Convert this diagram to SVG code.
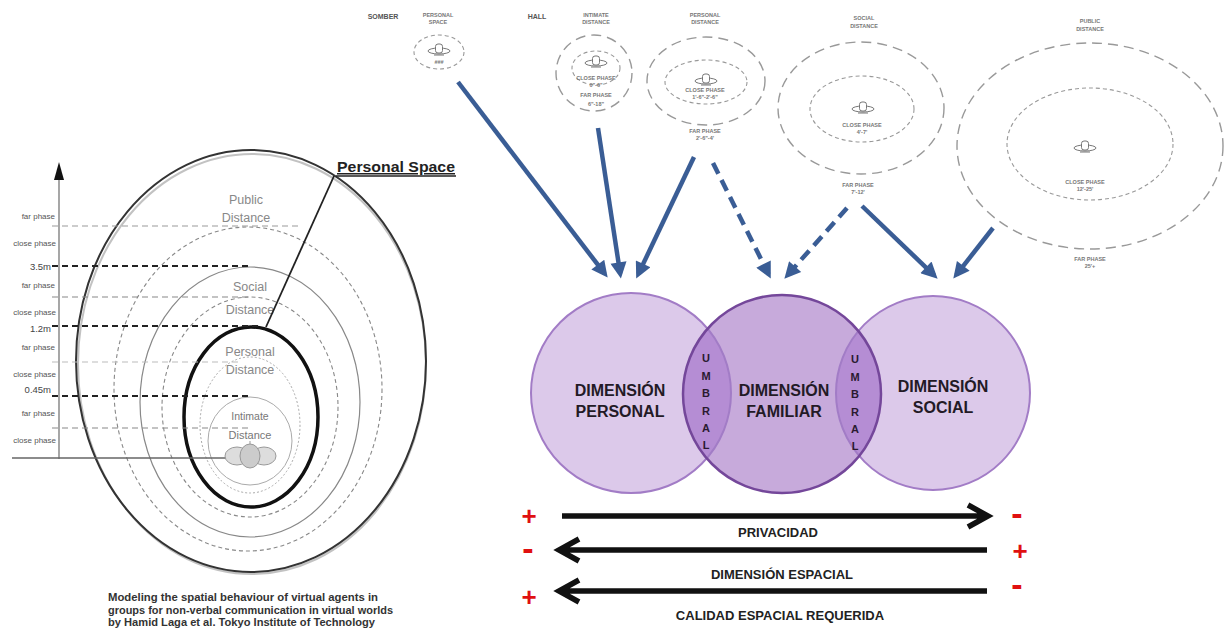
<svg xmlns="http://www.w3.org/2000/svg" width="1225" height="629" viewBox="0 0 1225 629">
<defs>
<style>
.lbl{font-family:"Liberation Sans",Arial,sans-serif;}
.tiny{font-family:"Liberation Sans",Arial,sans-serif;font-size:5.5px;font-weight:bold;fill:#777;text-anchor:middle;}
.hdr{font-family:"Liberation Sans",Arial,sans-serif;font-size:7px;font-weight:bold;fill:#555;text-anchor:middle;}
.phase{font-family:"Liberation Sans",Arial,sans-serif;font-size:8px;fill:#555;text-anchor:end;}
.meter{font-family:"Liberation Sans",Arial,sans-serif;font-size:9.5px;fill:#444;text-anchor:end;}
.zone{font-family:"Liberation Sans",Arial,sans-serif;font-size:12.5px;fill:#888;text-anchor:middle;}
.dimt{font-family:"Liberation Sans",Arial,sans-serif;font-size:16px;font-weight:bold;fill:#231a26;text-anchor:middle;}
.umb{font-family:"Liberation Sans",Arial,sans-serif;font-size:11px;font-weight:bold;fill:#2a1a30;text-anchor:middle;}
.axl{font-family:"Liberation Sans",Arial,sans-serif;font-size:13px;font-weight:bold;fill:#222;text-anchor:middle;}
.sign{font-family:"Liberation Sans",Arial,sans-serif;font-size:26px;font-weight:bold;fill:#e01010;text-anchor:middle;}
.minus{font-family:"Liberation Sans",Arial,sans-serif;font-size:34px;font-weight:bold;fill:#e01010;text-anchor:middle;}
.cap{font-family:"Liberation Sans",Arial,sans-serif;font-size:10px;font-weight:bold;fill:#333;}
.outer{fill:none;stroke:#999;stroke-width:1.4;stroke-dasharray:10 6;}
.inner{fill:none;stroke:#999;stroke-width:1.1;stroke-dasharray:4 3;}
.blue{fill:none;stroke:#3a5d95;stroke-width:4.5;marker-end:url(#bh);}
.dash{stroke-dasharray:12 7;}
.blk{fill:none;stroke:#111;stroke-width:5.5;stroke-linejoin:miter;}
</style>
<marker id="bh" viewBox="0 0 10 10" refX="7" refY="5" markerWidth="4" markerHeight="3.6" orient="auto">
<path d="M0,0 L10,5 L0,10 z" fill="#3a5d95"/>
</marker>
<symbol id="saucer" viewBox="-14 -10 28 20" width="28" height="20" overflow="visible">
<ellipse cx="0" cy="1" rx="11" ry="3" fill="#fff" stroke="#777" stroke-width="1"/>
<rect x="-3.5" y="-6" width="7" height="9" rx="2.5" fill="#fff" stroke="#777" stroke-width="1"/>
<path d="M-5,5 H5" stroke="#777" stroke-width="1"/>
</symbol>
<clipPath id="cL"><circle cx="631" cy="393" r="100"/></clipPath>
<clipPath id="cR"><circle cx="933" cy="393" r="97"/></clipPath>
</defs>

<rect width="1225" height="629" fill="#fff"/>

<!-- Left figure: personal space zones -->
<g id="proxemics-figure">
<ellipse cx="252" cy="364" rx="174" ry="210" fill="none" stroke="#999" stroke-width="2" opacity="0.6"/>
<ellipse cx="251" cy="361" rx="175" ry="211" fill="none" stroke="#333" stroke-width="2"/>
<ellipse cx="248" cy="389" rx="134" ry="162" fill="none" stroke="#888" stroke-width="1.1" stroke-dasharray="4 3"/>
<ellipse cx="250" cy="402" rx="110" ry="135" fill="none" stroke="#888" stroke-width="1.2"/>
<ellipse cx="250" cy="407" rx="88" ry="110" fill="none" stroke="#888" stroke-width="1.1" stroke-dasharray="4 3"/>
<ellipse cx="250" cy="425" rx="50" ry="68" fill="none" stroke="#aaa" stroke-width="1" stroke-dasharray="2 2"/>
<ellipse cx="250" cy="441" rx="42" ry="44" fill="none" stroke="#aaa" stroke-width="1"/>
<ellipse cx="251" cy="417" rx="67" ry="90" fill="none" stroke="#111" stroke-width="3.5"/>
<line x1="59" y1="178" x2="59" y2="459" stroke="#777" stroke-width="1.3"/>
<polygon points="59,162 54,180 64,180" fill="#111"/>
<line x1="12" y1="458" x2="240" y2="458" stroke="#666" stroke-width="1.3"/>
<line x1="52" y1="226" x2="300" y2="226" stroke="#999" stroke-width="1.1" stroke-dasharray="6 4"/>
<line x1="52" y1="266" x2="250" y2="266" stroke="#222" stroke-width="2.2" stroke-dasharray="6 4"/>
<line x1="52" y1="297" x2="250" y2="297" stroke="#888" stroke-width="1.1" stroke-dasharray="6 4"/>
<line x1="52" y1="326" x2="262" y2="326" stroke="#222" stroke-width="2.2" stroke-dasharray="6 4"/>
<line x1="52" y1="362" x2="240" y2="362" stroke="#bbb" stroke-width="1.1" stroke-dasharray="6 4"/>
<line x1="52" y1="396" x2="250" y2="396" stroke="#222" stroke-width="2.2" stroke-dasharray="6 4"/>
<line x1="52" y1="428" x2="250" y2="428" stroke="#888" stroke-width="1.1" stroke-dasharray="6 4"/>
<text class="phase" x="55" y="219">far phase</text>
<text class="phase" x="56" y="246">close phase</text>
<text class="meter" x="51" y="270">3.5m</text>
<text class="phase" x="55" y="288">far phase</text>
<text class="phase" x="56" y="315">close phase</text>
<text class="meter" x="51" y="332">1.2m</text>
<text class="phase" x="55" y="350">far phase</text>
<text class="phase" x="56" y="377">close phase</text>
<text class="meter" x="51" y="393">0.45m</text>
<text class="phase" x="55" y="416">far phase</text>
<text class="phase" x="56" y="443">close phase</text>
<text class="zone" x="246" y="204">Public</text>
<text class="zone" x="246" y="222">Distance</text>
<text class="zone" x="250" y="291">Social</text>
<text class="zone" x="250" y="314">Distance</text>
<text class="zone" x="250" y="356">Personal</text>
<text class="zone" x="250" y="374">Distance</text>
<text class="zone" x="250" y="420" style="font-size:10.5px;fill:#777">Intimate</text>
<text class="zone" x="250" y="439" style="font-size:11px;fill:#777">Distance</text>
<path d="M250,441 V447" stroke="#999" stroke-width="1"/>
<ellipse cx="237" cy="456" rx="12" ry="9" fill="#ddd" stroke="#999" stroke-width="1"/>
<ellipse cx="264" cy="456" rx="12" ry="9" fill="#ddd" stroke="#999" stroke-width="1"/>
<ellipse cx="250" cy="456" rx="10" ry="12" fill="#ccc" stroke="#999" stroke-width="1"/>
<text class="lbl" x="337" y="172" font-size="15" font-weight="bold" fill="#222" text-decoration="underline" textLength="118" lengthAdjust="spacingAndGlyphs">Personal Space</text>
<line x1="336" y1="176" x2="456" y2="176" stroke="#222" stroke-width="1.5"/>
<line x1="334" y1="176" x2="266" y2="327" stroke="#222" stroke-width="1.8"/>
<text class="cap" x="108" y="601" textLength="270" lengthAdjust="spacingAndGlyphs">Modeling the spatial behaviour of virtual agents in</text>
<text class="cap" x="108" y="614" textLength="285" lengthAdjust="spacingAndGlyphs">groups for non-verbal communication in virtual worlds</text>
<text class="cap" x="108" y="626" textLength="267" lengthAdjust="spacingAndGlyphs">by Hamid Laga et al. Tokyo Institute of Technology</text>
</g>

<!-- Top row figures -->
<g id="sommer">
<text class="hdr" x="383" y="19">SOMBER</text>
</g>
<g id="personal-space-top">
<text class="tiny" x="438" y="17">PERSONAL</text>
<text class="tiny" x="438" y="24">SPACE</text>
<ellipse class="inner" cx="439" cy="52" rx="25" ry="17"/>
<use href="#saucer" x="425" y="40"/>
<text class="tiny" x="439" y="64">###</text>
</g>
<g id="hall">
<text class="hdr" x="537" y="19">HALL</text>
</g>
<g id="intimate-distance">
<text class="tiny" x="596" y="17">INTIMATE</text>
<text class="tiny" x="596" y="24">DISTANCE</text>
<ellipse class="outer" cx="594" cy="73" rx="38" ry="38"/>
<ellipse class="inner" cx="596" cy="68" rx="24" ry="17"/>
<use href="#saucer" x="582" y="52"/>
<text class="tiny" x="596" y="80">CLOSE PHASE</text>
<text class="tiny" x="596" y="87">0"-6"</text>
<text class="tiny" x="596" y="97">FAR PHASE</text>
<text class="tiny" x="596" y="106">6"-18"</text>
</g>
<g id="personal-distance">
<text class="tiny" x="705" y="17">PERSONAL</text>
<text class="tiny" x="705" y="24">DISTANCE</text>
<ellipse class="outer" cx="706" cy="81" rx="59" ry="44"/>
<ellipse class="inner" cx="706" cy="82" rx="41" ry="22"/>
<use href="#saucer" x="692" y="70"/>
<text class="tiny" x="705" y="92">CLOSE PHASE</text>
<text class="tiny" x="705" y="99">1'-6"-2'-6"</text>
<text class="tiny" x="705" y="133">FAR PHASE</text>
<text class="tiny" x="705" y="140">2'-6"-4'</text>
</g>
<g id="social-distance">
<text class="tiny" x="864" y="20">SOCIAL</text>
<text class="tiny" x="864" y="28">DISTANCE</text>
<ellipse class="outer" cx="861" cy="108" rx="83" ry="66"/>
<ellipse class="inner" cx="862" cy="109" rx="52" ry="33"/>
<use href="#saucer" x="849" y="98"/>
<text class="tiny" x="862" y="127">CLOSE PHASE</text>
<text class="tiny" x="862" y="134">4'-7'</text>
<text class="tiny" x="858" y="187">FAR PHASE</text>
<text class="tiny" x="858" y="194">7'-12'</text>
</g>
<g id="public-distance">
<text class="tiny" x="1090" y="23">PUBLIC</text>
<text class="tiny" x="1090" y="31">DISTANCE</text>
<ellipse class="outer" cx="1090" cy="146" rx="133" ry="103"/>
<ellipse class="inner" cx="1090" cy="144" rx="83" ry="56"/>
<use href="#saucer" x="1071" y="137"/>
<text class="tiny" x="1085" y="184">CLOSE PHASE</text>
<text class="tiny" x="1085" y="191">12'-25'</text>
<text class="tiny" x="1090" y="261">FAR PHASE</text>
<text class="tiny" x="1090" y="268">25'+</text>
</g>

<!-- Venn nodes -->
<g id="dimension-personal">
<circle cx="631" cy="393" r="100" fill="#dcc9ea"/>
</g>
<g id="dimension-social">
<circle cx="933" cy="393" r="97" fill="#dcc9ea"/>
</g>
<g id="dimension-familiar">
<circle cx="782" cy="394" r="99" fill="#c7aadb"/>
</g>
<g id="umbral-left">
<circle cx="782" cy="394" r="99" fill="#b58dd4" clip-path="url(#cL)"/>
</g>
<g id="umbral-right">
<circle cx="782" cy="394" r="99" fill="#b58dd4" clip-path="url(#cR)"/>
</g>
<g id="venn-outlines">
<circle cx="631" cy="393" r="100" fill="none" stroke="#a27cc6" stroke-width="2"/>
<circle cx="933" cy="393" r="97" fill="none" stroke="#a27cc6" stroke-width="2"/>
<circle cx="782" cy="394" r="99" fill="none" stroke="#74479a" stroke-width="2.5"/>
</g>
<g id="venn-labels">
<text class="dimt" x="620" y="396">DIMENSIÓN</text>
<text class="dimt" x="620" y="417">PERSONAL</text>
<text class="dimt" x="784" y="396">DIMENSIÓN</text>
<text class="dimt" x="784" y="417">FAMILIAR</text>
<text class="dimt" x="943" y="392">DIMENSIÓN</text>
<text class="dimt" x="943" y="413">SOCIAL</text>
<text class="umb" x="706" y="362">U</text>
<text class="umb" x="706" y="380">M</text>
<text class="umb" x="706" y="397">B</text>
<text class="umb" x="706" y="415">R</text>
<text class="umb" x="706" y="432">A</text>
<text class="umb" x="706" y="449">L</text>
<text class="umb" x="855" y="363">U</text>
<text class="umb" x="855" y="381">M</text>
<text class="umb" x="855" y="398">B</text>
<text class="umb" x="855" y="416">R</text>
<text class="umb" x="855" y="433">A</text>
<text class="umb" x="855" y="450">L</text>
</g>

<!-- Connectors -->
<g id="connectors">
<line class="blue" x1="458" y1="82" x2="604.7" y2="273.7"/>
<line class="blue" x1="598" y1="128" x2="620.2" y2="273.7"/>
<line class="blue" x1="694" y1="157" x2="638.3" y2="274.1"/>
<line class="blue dash" x1="713" y1="163" x2="768.6" y2="274.2"/>
<line class="blue dash" x1="847" y1="208" x2="787.6" y2="275"/>
<line class="blue" x1="862" y1="206" x2="934.1" y2="275.3"/>
<line class="blue" x1="993" y1="228" x2="956.3" y2="274.8"/>
<path class="blk" d="M562,516 H986 M968,505 L988,516 L968,527"/>
<path class="blk" d="M987,550 H561 M579,539 L559,550 L579,561"/>
<path class="blk" d="M987,591 H561 M579,580 L559,591 L579,602"/>
</g>

<!-- Axis labels -->
<g id="axis-labels">
<text class="axl" x="778" y="537">PRIVACIDAD</text>
<text class="axl" x="782" y="579">DIMENSIÓN ESPACIAL</text>
<text class="axl" x="780" y="620">CALIDAD ESPACIAL REQUERIDA</text>
<text class="sign" x="529" y="525">+</text>
<text class="minus" x="1017" y="525">-</text>
<text class="minus" x="528" y="560">-</text>
<text class="sign" x="1020" y="560">+</text>
<text class="minus" x="1017" y="596">-</text>
<text class="sign" x="529" y="606">+</text>
</g>
</svg>
